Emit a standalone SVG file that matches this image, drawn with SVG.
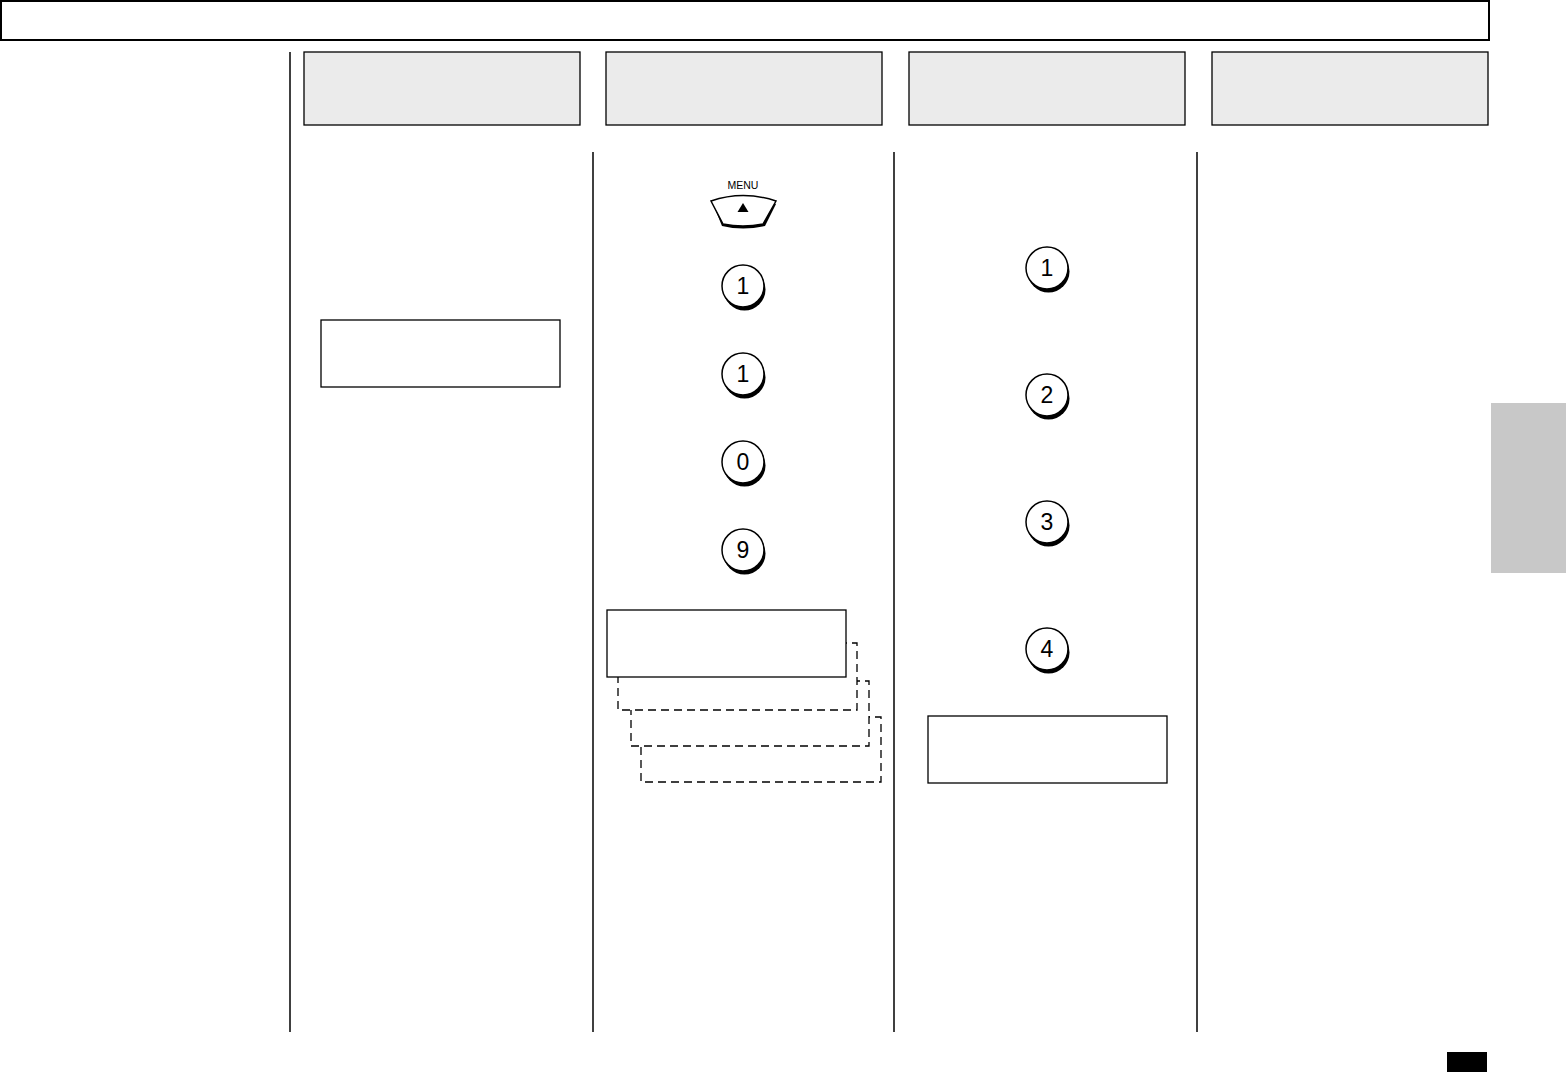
<svg xmlns="http://www.w3.org/2000/svg" width="1566" height="1080" viewBox="0 0 1566 1080">
<style>
.ln{stroke:#000;stroke-width:1.5;fill:none}
.hdr{fill:#ebebeb;stroke:#000;stroke-width:1.3}
.lcd{fill:#fff;stroke:#000;stroke-width:1.3}
.dash{fill:#fff;stroke:#000;stroke-width:1.3;stroke-dasharray:8,5}
.kt{font-family:"Liberation Sans",Arial,sans-serif;font-size:23px;text-anchor:middle}
</style>
<defs>
<g id="key">
<circle cx="1.5" cy="3.5" r="21" fill="#000"/>
<circle cx="0" cy="0" r="21" fill="#fff" stroke="#000" stroke-width="1.5"/>
</g>
</defs>
<rect width="1566" height="1080" fill="#fff"/>
<rect x="1" y="1" width="1488" height="39" fill="#fff" stroke="#000" stroke-width="2"/>
<g id="columns">
<line class="ln" x1="290" y1="52" x2="290" y2="1032"/>
<line class="ln" x1="593" y1="152" x2="593" y2="1032"/>
<line class="ln" x1="894" y1="152" x2="894" y2="1032"/>
<line class="ln" x1="1197" y1="152" x2="1197" y2="1032"/>
</g>
<g id="headers">
<rect class="hdr" x="304" y="52" width="276" height="73"/>
<rect class="hdr" x="606" y="52" width="276" height="73"/>
<rect class="hdr" x="909" y="52" width="276" height="73"/>
<rect class="hdr" x="1212" y="52" width="276" height="73"/>
</g>
<rect id="tab" x="1491" y="403" width="75" height="170" fill="#c8c8c8"/>
<rect id="pagenum" x="1447" y="1052" width="40" height="20" fill="#000"/>
<g id="lcd1"><rect class="lcd" x="321" y="320" width="239" height="67"/></g>
<g id="lcd2">
<rect class="dash" x="641" y="717" width="240" height="65"/>
<rect class="dash" x="631" y="681" width="238" height="65"/>
<rect class="dash" x="618" y="643" width="239" height="67"/>
<rect class="lcd" x="607" y="610" width="239" height="67"/>
</g>
<g id="lcd3"><rect class="lcd" x="928" y="716" width="239" height="67"/></g>
<g id="menu-key">
<text x="743" y="189" font-family="Liberation Sans,Arial,sans-serif" font-size="10.5" text-anchor="middle">MENU</text>
<path d="M713,204 Q743,192 776,204 L765,226 Q743,231 722,226 Z" fill="#000"/>
<path d="M711,201 Q743,190 776,201 L763,224 Q743,228 723,224 Z" fill="#fff" stroke="#000" stroke-width="1.5"/>
<path d="M743,203 L748.5,212 L737.5,212 Z" fill="#000"/>
</g>
<g id="k1"><use href="#key" x="743" y="286"/><text class="kt" x="743" y="294">1</text></g>
<g id="k2"><use href="#key" x="743" y="374"/><text class="kt" x="743" y="382">1</text></g>
<g id="k3"><use href="#key" x="743" y="462"/><text class="kt" x="743" y="470">0</text></g>
<g id="k4"><use href="#key" x="743" y="550"/><text class="kt" x="743" y="558">9</text></g>
<g id="k5"><use href="#key" x="1047" y="268"/><text class="kt" x="1047" y="276">1</text></g>
<g id="k6"><use href="#key" x="1047" y="395"/><text class="kt" x="1047" y="403">2</text></g>
<g id="k7"><use href="#key" x="1047" y="522"/><text class="kt" x="1047" y="530">3</text></g>
<g id="k8"><use href="#key" x="1047" y="649"/><text class="kt" x="1047" y="657">4</text></g>
</svg>
